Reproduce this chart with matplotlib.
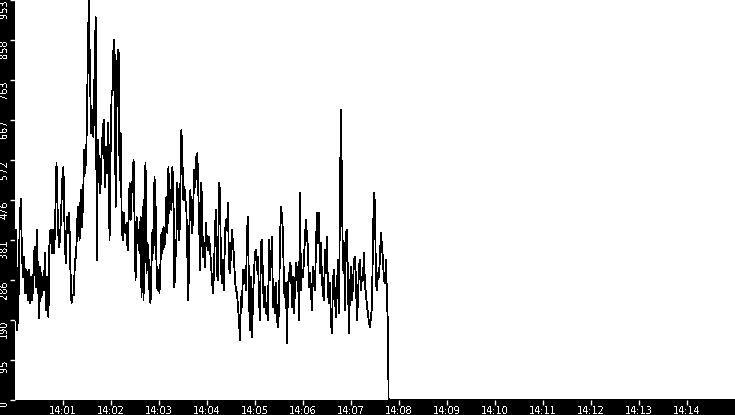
import numpy as np
import pandas as pd
import matplotlib
matplotlib.use("Agg")
import matplotlib.pyplot as plt
import matplotlib.dates as mdates

plt.rcParams["text.antialiased"] = False

# ---- data ----
axis_start_time = "2024-01-01 14:00:00"
axis_end_time = "2024-01-01 14:15:00"
drop_time = "2024-01-01 14:07:47"

# (start, end) time of each stretch of readings
seg_times = [("14:00:00.0", "14:01:59.6"),
             ("14:02:00.8", "14:03:52.9"),
             ("14:03:53.7", "14:05:52.5"),
             ("14:05:53.7", "14:07:46.2")]

seg1 = [191, 405, 167, 231, 412, 479, 350, 293, 341, 255,
        310, 238, 310, 231, 293, 238, 303, 365, 269, 405,
        279, 195, 317, 245, 293, 262, 350, 214, 293, 198,
        398, 405, 350, 405, 350, 446, 565, 446, 365, 381,
        446, 524, 555, 405, 326, 436, 398, 446, 317, 231,
        250, 250, 334, 341, 429, 460, 381, 500, 412, 469,
        596, 541, 612, 779, 953, 786, 636, 691, 627, 779,
        912, 334, 619, 548, 493, 579, 636, 667, 507, 603,
        541, 660, 381, 612]
seg2 = [731, 739, 858, 822, 460, 708, 834, 827, 524, 636,
        446, 381, 446, 405, 398, 422, 357, 429, 517, 429,
        493, 524, 572, 422, 286, 436, 374, 405, 350, 436,
        245, 460, 238, 507, 565, 303, 374, 341, 255, 231,
        326, 405, 350, 531, 477, 326, 262, 310, 255, 326,
        398, 350, 412, 365, 412, 484, 398, 555, 446, 500,
        453, 555, 493, 269, 334, 381, 517, 446, 381, 517,
        643, 572, 477, 507, 477, 453, 341, 238, 412, 500,
        429, 398, 477, 548, 507, 579, 588, 493, 398, 310,
        517]
seg3 = [469, 341, 374, 317, 422, 374, 357, 388, 365, 326,
        286, 255, 303, 405, 453, 303, 286, 517, 500, 317,
        279, 334, 262, 398, 429, 405, 469, 317, 303, 350,
        405, 374, 341, 286, 262, 255, 222, 191, 143, 245,
        222, 310, 279, 310, 262, 398, 436, 245, 167, 293,
        150, 238, 303, 350, 357, 310, 341, 245, 191, 374,
        381, 279, 222, 269, 207, 214, 191, 381, 286, 334,
        388, 222, 269, 207, 279, 191, 174, 214, 381, 460,
        436, 398, 262, 245, 279, 136, 279, 286, 326, 317,
        222, 293, 207, 269, 326, 286]
seg4 = [317, 191, 493, 262, 310, 293, 334, 388, 429, 388,
        365, 269, 303, 262, 214, 317, 279, 262, 365, 446,
        374, 446, 303, 374, 286, 255, 238, 357, 303, 388,
        255, 231, 279, 183, 160, 286, 310, 245, 198, 269,
        334, 207, 484, 691, 500, 310, 374, 214, 398, 405,
        286, 160, 262, 317, 238, 269, 334, 341, 286, 191,
        238, 317, 334, 262, 293, 286, 350, 269, 255, 222,
        207, 183, 174, 198, 222, 381, 493, 469, 279, 262,
        303, 293, 341, 398, 365, 334, 286, 279, 334, 245,
        172]
tail_values = [0, 0]

y_max = 953
y_ticks = [0, 95.3, 190.6, 285.9, 381.2, 476.5, 571.8, 667.1, 762.4, 857.7, 953]
y_tick_labels = ["0", "95", "190", "286", "381", "476", "572", "667", "763", "858", "953"]
x_tick_minutes = list(range(1, 15))

# ---- build series ----
day = "2024-01-01 "
segs = [seg1, seg2, seg3, seg4]
time_parts = []
value_parts = []
for (a, b), seg in zip(seg_times, segs):
    time_parts.append(pd.date_range(day + a, day + b, periods=len(seg)))
    value_parts.append(np.array(seg, dtype=float))
time_parts.append(pd.to_datetime([drop_time, axis_end_time]))
value_parts.append(np.array(tail_values, dtype=float))
times = time_parts[0]
for tp in time_parts[1:]:
    times = times.append(tp)
values = np.concatenate(value_parts)

# ---- figure ----
W, H = 735, 415
fig = plt.figure(figsize=(W / 100, H / 100), dpi=100, facecolor="black")
ax = fig.add_axes([15 / W, 15 / H, 720 / W, 400 / H])
ax.set_facecolor("white")

ax.plot(times, values, color="black", linewidth=0.6, antialiased=False)

t0 = pd.Timestamp(axis_start_time)
ax.set_xlim(t0, pd.Timestamp(axis_end_time))
ax.set_ylim(0, y_max)

ax.set_xticks([t0 + pd.Timedelta(minutes=m) for m in x_tick_minutes])
ax.xaxis.set_major_formatter(mdates.DateFormatter("%H:%M"))
ax.set_yticks(y_ticks)
ax.set_yticklabels(y_tick_labels)

for s in ax.spines.values():
    s.set_visible(False)

ax.tick_params(axis="both", direction="out", color="white", length=3.5, width=1,
               labelcolor="white", labelsize=7)
ax.tick_params(axis="x", pad=0.5)
ax.tick_params(axis="y", pad=0.5, labelrotation=90)
for lbl in ax.get_yticklabels():
    lbl.set_va("top")
    lbl.set_ha("right")

fig.savefig("out.png", dpi=100, facecolor="black")
